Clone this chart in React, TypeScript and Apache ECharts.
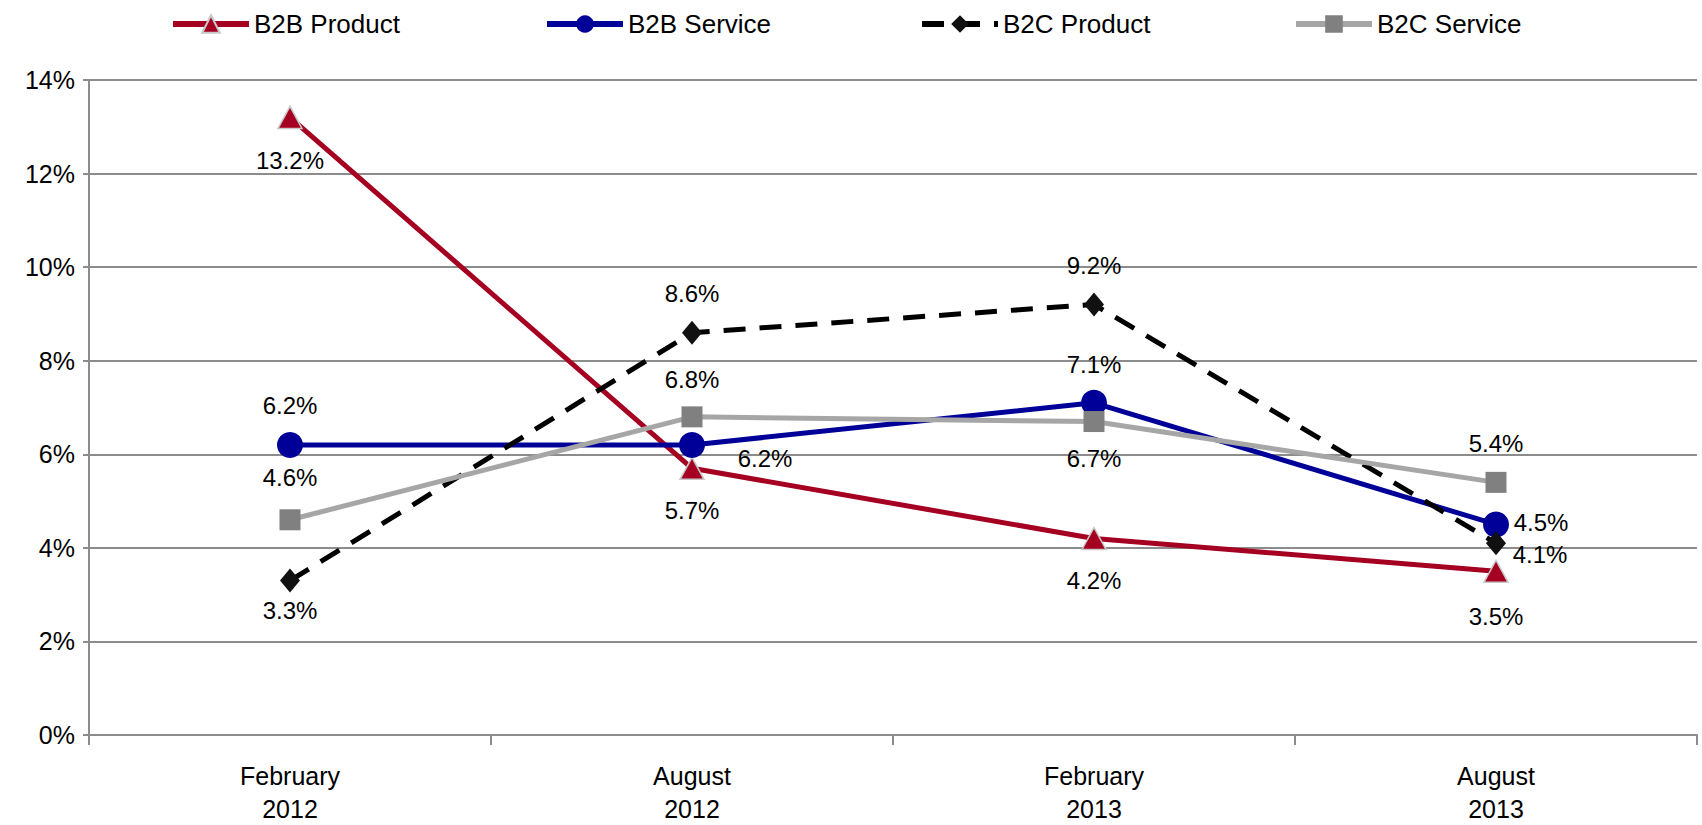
import React, { useEffect, useRef } from "react";
import * as echarts from "echarts";

const categories = ["February\n2012", "August\n2012", "February\n2013", "August\n2013"];
const seriesNames = ["B2B Product", "B2B Service", "B2C Product", "B2C Service"];
const b2bProduct = [13.2, 5.7, 4.2, 3.5];
const b2bService = [6.2, 6.2, 7.1, 4.5];
const b2cProduct = [3.3, 8.6, 9.2, 4.1];
const b2cService = [4.6, 6.8, 6.7, 5.4];
const yTicks = { min: 0, max: 14, interval: 2 };

const FONT = "'Liberation Sans', Arial, sans-serif";

// label offsets [dx, dy] relative to the point
const labelOffsets: number[][][] = [
  [[0, 43], [0, 42], [0, 42], [0, 45]],
  [[0, -39], [73, 14], [0, -38], [45, -2]],
  [[0, 30], [0, -39], [0, -39], [44, 11]],
  [[0, -42], [0, -37], [0, 37], [0, -39]],
];

export default function App() {
  const ref = useRef<HTMLDivElement>(null);
  useEffect(() => {
    document.body.style.margin = "0";
    if (!ref.current) return;
    const chart = echarts.init(ref.current, null, { renderer: "svg" });
    const values = [b2bProduct, b2bService, b2cProduct, b2cService];
    const colors = ["#A50021", "#000099", "#000000", "#A6A6A6"];
    const markerColors = ["#A50021", "#000099", "#111111", "#808080"];
    const symbols = ["triangle", "circle", "diamond", "rect"];
    const symbolSizes = [[24, 22], 26, [20, 24], 21];
    const legendLefts = [165, 539, 914, 1288];

    const series = values.map((vals, si) => ({
      name: seriesNames[si],
      type: "line",
      data: vals.map((v, i) => ({
        value: v,
        label: {
          show: true,
          position: "inside",
          offset: labelOffsets[si][i],
          formatter: (p: any) => p.value.toFixed(1) + "%",
          fontSize: 24,
          fontFamily: FONT,
          color: "#000",
        },
      })),
      symbol: symbols[si],
      symbolSize: symbolSizes[si],
      showSymbol: true,
      lineStyle: {
        color: colors[si],
        width: 5,
        type: si === 2 ? [22, 14] : "solid",
      },
      itemStyle: {
        color: markerColors[si],
        borderColor: si === 0 ? "#c8c8c8" : markerColors[si],
        borderWidth: si === 0 ? 1.5 : 0,
      },
      emphasis: { disabled: true },
      z: 2 + si,
    }));

    chart.setOption({
      animation: false,
      backgroundColor: "#ffffff",
      legend: seriesNames.map((n, i) => ({
        data: [n],
        left: legendLefts[i],
        top: 6,
        itemWidth: 76,
        itemHeight: 22,
        itemGap: 0,
        textStyle: { fontSize: 26, fontFamily: FONT, color: "#000" },
        lineStyle: { width: 6 },
        selectedMode: false,
      })),
      grid: { left: 89, right: 5, top: 80, bottom: 89, containLabel: false },
      xAxis: {
        type: "category",
        data: categories,
        boundaryGap: true,
        axisLine: { show: true, lineStyle: { color: "#8c8c8c", width: 2 } },
        axisTick: { show: true, length: 10, lineStyle: { color: "#8c8c8c", width: 2 } },
        axisLabel: {
          fontSize: 25,
          fontFamily: FONT,
          color: "#000",
          lineHeight: 33,
          margin: 24,
        },
      },
      yAxis: {
        type: "value",
        min: yTicks.min,
        max: yTicks.max,
        interval: yTicks.interval,
        axisLine: { show: true, lineStyle: { color: "#8c8c8c", width: 2 } },
        axisTick: { show: true, length: 6, lineStyle: { color: "#8c8c8c", width: 2 } },
        splitLine: { show: true, lineStyle: { color: "#8c8c8c", width: 2 } },
        axisLabel: {
          formatter: "{value}%",
          fontSize: 25,
          fontFamily: FONT,
          color: "#000",
          margin: 14,
        },
      },
      series,
    });
    return () => chart.dispose();
  }, []);
  return <div ref={ref} style={{ width: 1702, height: 825 }} />;
}
